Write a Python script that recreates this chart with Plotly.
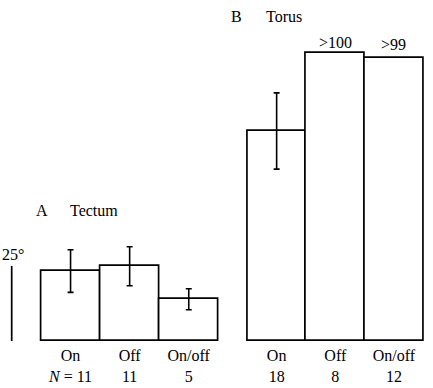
import plotly.graph_objects as go

# Data
tectum_cats = ["On", "Off", "On/off"]
tectum_vals = [23.3, 24.9, 13.9]
tectum_err = [7.1, 6.5, 3.5]
tectum_n = ["<i>N</i> = 11", "11", "5"]

torus_cats = ["On", "Off", "On/off"]
torus_vals = [70.0, 96.1, 94.2]
torus_err = [12.7, None, None]
torus_n = ["18", "8", "12"]
torus_over = [None, ">100", ">99"]

scale_value = 25

W, H = 433, 388
FONT = "Liberation Serif"
FS = 16

fig = go.Figure()

def ticktext(cats, ns):
    return [f"{c}<br>{n}" for c, n in zip(cats, ns)]

fig.add_trace(go.Bar(
    x=list(range(3)), y=tectum_vals, xaxis="x", yaxis="y",
    marker=dict(color="white", line=dict(color="black", width=1.7)),
    error_y=dict(type="data", array=tectum_err, color="black", thickness=1.6, width=3),
    width=1.0, showlegend=False,
))
fig.add_trace(go.Bar(
    x=list(range(3)), y=torus_vals, xaxis="x2", yaxis="y",
    marker=dict(color="white", line=dict(color="black", width=1.7)),
    width=1.0, showlegend=False,
))
# error bars only where they exist
idx = [i for i, e in enumerate(torus_err) if e is not None]
fig.add_trace(go.Scatter(
    x=idx, y=[torus_vals[i] for i in idx], xaxis="x2", yaxis="y", mode="markers",
    marker=dict(size=0.1, color="rgba(0,0,0,0)"),
    error_y=dict(type="data", array=[torus_err[i] for i in idx], color="black",
                 thickness=1.6, width=3),
    showlegend=False, hoverinfo="skip",
))

PAD = 0.06
ax_common = dict(range=[-0.5 - PAD, 2.5 + PAD], showgrid=False, zeroline=False, showline=False,
                 ticks="", tickmode="array", tickvals=list(range(3)),
                 tickfont=dict(family=FONT, size=FS, color="black"), fixedrange=True)

u1 = (218.3 - 41) / 3
u2 = (423.3 - 247.3) / 3
fig.update_layout(
    width=W, height=H,
    margin=dict(l=0, r=0, t=0, b=44),
    paper_bgcolor="white", plot_bgcolor="white",
    bargap=0,
    xaxis=dict(domain=[(41 - PAD * u1) / W, (218.3 + PAD * u1) / W], anchor="y",
               ticktext=ticktext(tectum_cats, tectum_n), **ax_common),
    xaxis2=dict(domain=[(247.3 - PAD * u2) / W, (423.3 + PAD * u2) / W], anchor="y",
                ticktext=ticktext(torus_cats, torus_n), **ax_common),
    yaxis=dict(range=[-1, 341 / 3], visible=False, fixedrange=True),
    font=dict(family=FONT, size=FS, color="black"),
)

# value labels above clipped torus bars
shifts = [0, 0, 3]
for i, t in enumerate(torus_over):
    if t:
        fig.add_annotation(x=i, y=torus_vals[i], xref="x2", yref="y", text=t,
                           showarrow=False, yanchor="bottom", yshift=shifts[i],
                           font=dict(family=FONT, size=FS))

# panel titles
def title(xpx, ypx, text):
    fig.add_annotation(x=xpx / W, y=(341 - ypx) / 3, xref="paper", yref="y", text=text,
                       showarrow=False, xanchor="left", yanchor="middle",
                       font=dict(family=FONT, size=FS))

title(34, 210, "A")
title(68, 210, "Tectum")
title(229, 16, "B")
title(264, 16, "Torus")

# scale bar
fig.add_shape(type="line", xref="paper", yref="y", x0=11.7 / W, x1=11.7 / W,
              y0=0, y1=scale_value, line=dict(color="black", width=1.7))
fig.add_annotation(x=13 / W, y=scale_value + 4, xref="paper", yref="y",
                   text=f"{scale_value}°", showarrow=False, xanchor="center",
                   yanchor="middle", font=dict(family=FONT, size=FS))

fig.write_html("out.html")
